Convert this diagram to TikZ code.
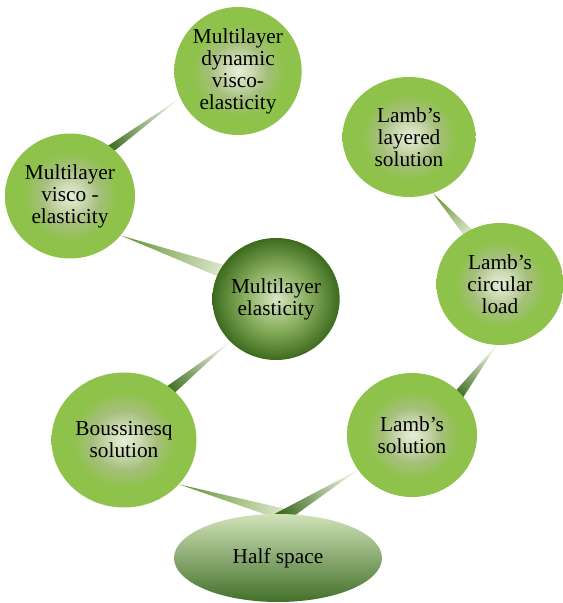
\documentclass[tikz,border=0pt]{standalone}
\usepackage{fontspec}
\setmainfont{Liberation Serif}
\usetikzlibrary{shapes.geometric,calc,backgrounds}

\definecolor{bubcore}{HTML}{E6EED9}
\definecolor{bubmid}{HTML}{A6BF7C}
\definecolor{bubedge}{HTML}{8EC24A}
\definecolor{hubcore}{HTML}{D9E7C5}
\definecolor{hubmid}{HTML}{86AC5A}
\definecolor{hubedge}{HTML}{3C6A1D}
\definecolor{halftop}{HTML}{D0E2B8}
\definecolor{halfmid}{HTML}{97B872}
\definecolor{halfbot}{HTML}{42702A}
\definecolor{wedgedark}{HTML}{3E6B1F}
\definecolor{wedgemid}{HTML}{6F9B3E}
\definecolor{wedgepale}{HTML}{E2EBD3}

\pgfdeclareradialshading{bubbleshade}{\pgfpointorigin}{color(0bp)=(bubcore); color(5bp)=(bubcore!60!bubmid); color(11bp)=(bubmid); color(18bp)=(bubedge); color(25bp)=(bubedge); color(50bp)=(bubedge)}
\pgfdeclareradialshading{hubshade}{\pgfpointorigin}{color(0bp)=(hubcore); color(6bp)=(hubcore!50!hubmid); color(13bp)=(hubmid); color(21bp)=(hubedge!65!hubmid); color(25bp)=(hubedge); color(50bp)=(hubedge)}

% tapered link: tip anchor, base anchor, half width, tip colour, base colour
\newcommand{\taper}[5]{%
  \coordinate (tp) at (#1);
  \coordinate (bs) at ($(tp)!1.15!(#2)$);
  \pgfmathanglebetweenpoints{\pgfpointanchor{tp}{center}}{\pgfpointanchor{bs}{center}}
  \pgfmathsetmacro\tapangle{\pgfmathresult-90}
  \shade [bottom color=#4, top color=#5, shading angle=\tapangle]
    (tp) -- ($(bs)!#3!90:(tp)$) -- ($(bs)!#3!-90:(tp)$) -- cycle;
}

\tikzset{
  topic/.style={ellipse, shade, shading=bubbleshade, inner sep=0pt, outer sep=0pt,
    align=center, font=\fontsize{18.2}{18.8}\selectfont},
  hub/.style={topic, shading=hubshade},
  ground/.style={ellipse, top color=halftop, middle color=halfmid, bottom color=halfbot,
    inner sep=0pt, outer sep=0pt, font=\fontsize{18.2}{18.8}\selectfont}
}

\begin{document}
\begin{tikzpicture}
  \useasboundingbox (0,0) rectangle (16.89,18.09);
  \node [topic, minimum width=3.81cm, minimum height=3.84cm] (dyn) at (7.14,15.96) {Multilayer\\dynamic\\visco-\\elasticity};
  \node [topic, minimum width=3.90cm, minimum height=3.75cm] (visco) at (2.10,12.21) {Multilayer\\visco -\\elasticity};
  \node [hub, minimum width=3.66cm, minimum height=3.66cm] (elast) at (8.28,9.12) {Multilayer\\elasticity};
  \node [topic, minimum width=3.99cm, minimum height=3.60cm] (layer) at (12.27,13.98) {Lamb’s\\layered\\solution};
  \node [topic, minimum width=3.81cm, minimum height=3.66cm] (circ) at (15.00,9.57) {Lamb’s\\circular\\load};
  \node [topic, minimum width=3.90cm, minimum height=3.72cm] (lsol) at (12.36,5.04) {Lamb’s\\solution};
  \node [topic, minimum width=4.35cm, minimum height=4.05cm] (bous) at (3.72,4.89) {Boussinesq\\solution};
  \node [ground, minimum width=6.24cm, minimum height=2.64cm] (half) at (8.34,1.35) {Half space};
  \begin{pgfonlayer}{background}
    \taper{dyn.205}{visco.49}{0.135cm}{wedgepale}{wedgedark}
    \taper{visco.322}{elast.153}{0.22cm}{wedgemid}{wedgepale}
    \taper{elast.223}{bous.47}{0.17cm}{wedgepale}{wedgedark}
    \taper{layer.293}{circ.122}{0.17cm}{wedgemid}{wedgepale}
    \taper{circ.267}{lsol.41}{0.17cm}{wedgepale}{wedgedark}
    \taper{bous.321}{half.85}{0.2cm}{wedgemid}{wedgepale}
    \taper{lsol.213}{half.79}{0.2cm}{wedgepale}{wedgedark}
  \end{pgfonlayer}
\end{tikzpicture}
\end{document}
